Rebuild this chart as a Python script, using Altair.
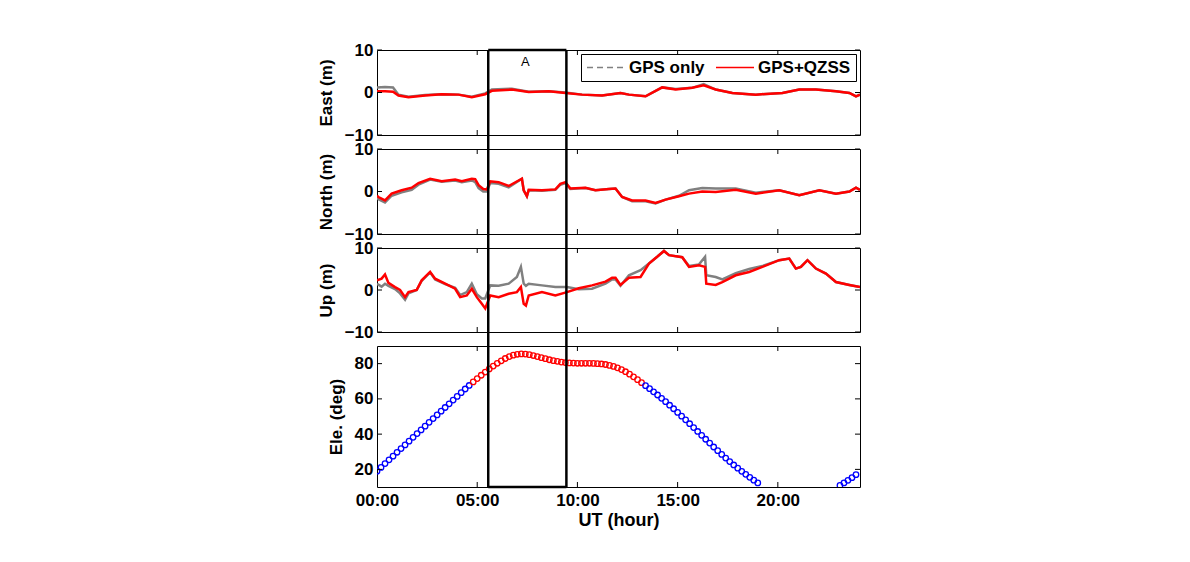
import altair as alt
import pandas as pd

# ---------------- data ----------------
X_DOMAIN = [0, 24.1]
X_TICKS = [5, 10, 15, 20]
X_LABEL_TICKS = [0, 5, 10, 15, 20]
BOX_HOURS = [5.55, 9.45]
BOX_LABEL = "A"
BOX_LABEL_HOUR = 7.4
SERIES = ["GPS only", "GPS+QZSS"]

east_t = [0.0, 0.4, 0.8, 1.07, 1.57, 2.4, 3.23, 4.07, 4.73, 5.4, 5.73, 6.73, 7.57, 8.57,
          9.4, 10.23, 11.23, 12.15, 12.57, 13.4, 14.23, 14.9, 15.73, 16.3, 16.9, 17.73,
          18.9, 20.23, 21.07, 21.9, 22.9, 23.57, 23.9, 24.1]
east_qzss = [0.3, 0.3, 0.2, -0.7, -1.1, -0.7, -0.4, -0.5, -1.1, -0.4, 0.4, 0.7, 0.1, 0.3,
             -0.1, -0.5, -0.7, -0.1, -0.5, -0.9, 1.2, 0.7, 1.1, 1.7, 0.7, -0.1,
             -0.5, -0.1, 0.7, 0.7, 0.3, -0.1, -0.9, -0.5]
east_gps = [1.2, 1.3, 1.2, -0.5, -1.0, -0.6, -0.4, -0.5, -1.0, -0.2, 0.7, 0.9, 0.2, 0.3,
            0.0, -0.5, -0.7, -0.1, -0.5, -0.9, 1.2, 0.8, 1.1, 2.0, 0.7, -0.1,
            -0.5, -0.1, 0.7, 0.7, 0.3, -0.1, -0.9, -0.5]

north_t = [0.0, 0.07, 0.4, 0.73, 1.23, 1.73, 2.07, 2.65, 3.23, 3.9, 4.23, 4.73, 4.9, 5.07,
           5.3, 5.48, 5.65, 6.07, 6.57, 7.23, 7.32, 7.48, 7.57, 8.23, 8.9, 9.15, 9.4, 9.65,
           10.4, 10.9, 11.57, 11.9, 12.23, 12.73, 13.4, 13.9, 14.4, 15.07, 15.57, 16.23,
           16.9, 17.9, 18.9, 20.07, 21.07, 22.07, 22.9, 23.57, 23.9, 24.1]
north_qzss = [-1.0, -1.3, -2.1, -0.5, 0.3, 0.9, 2.0, 3.0, 2.4, 2.8, 2.4, 3.0, 2.9, 1.5,
              0.6, 0.5, 2.4, 2.2, 1.3, 3.0, 0.3, -1.1, 0.4, 0.3, 0.5, 1.8, 2.2, 0.7,
              0.9, 0.3, 0.6, 0.7, -1.3, -2.1, -2.1, -2.7, -1.9, -1.1, -0.5, 0.0,
              -0.1, 0.4, -0.5, 0.3, -0.9, 0.3, -0.5, 0.0, 0.9, 0.4]
north_gps = [-1.4, -1.8, -2.6, -1.0, -0.2, 0.4, 1.6, 2.8, 2.3, 2.6, 2.2, 2.6, 2.2, 0.8,
             0.0, 0.0, 2.0, 1.8, 1.0, 3.0, 0.3, -1.1, 0.3, 0.2, 0.4, 1.6, 2.0, 0.6,
             0.8, 0.3, 0.6, 0.7, -1.3, -2.3, -2.3, -2.8, -1.9, -1.0, 0.3, 0.8,
             0.7, 0.7, -0.3, 0.3, -0.9, 0.3, -0.5, 0.0, 0.9, 0.4]

up_t = [0.0, 0.23, 0.4, 0.57, 0.9, 1.15, 1.4, 1.57, 1.98, 2.23, 2.65, 2.9, 3.4, 3.9, 4.15,
        4.48, 4.73, 4.98, 5.23, 5.4, 5.65, 6.07, 6.57, 6.98, 7.18, 7.32, 7.43, 7.57, 8.23,
        8.9, 9.48, 10.07, 10.73, 11.4, 11.73, 11.9, 12.15, 12.57, 13.15, 13.57, 13.98,
        14.32, 14.57, 15.23, 15.57, 16.07, 16.37, 16.43, 16.9, 17.23, 17.9, 18.57, 19.23,
        20.07, 20.57, 20.9, 21.15, 21.48, 21.9, 22.4, 22.9, 23.57, 24.1]
up_qzss = [2.3, 2.7, 3.7, 1.7, 0.7, 0.0, -1.7, -0.5, 0.0, 2.3, 4.3, 2.7, 1.5, 0.3, -1.7,
           -1.3, 0.3, -1.7, -3.3, -4.4, -1.3, -1.7, -0.9, -0.5, 0.7, -3.3, -3.7, -1.3, -0.5,
           -1.3, -0.5, 0.4, 1.1, 2.0, 2.9, 2.9, 1.2, 2.9, 3.1, 6.3, 7.9,
           9.3, 8.3, 7.8, 5.5, 5.9, 5.5, 1.5, 1.2, 1.9, 3.5, 4.3, 5.5,
           7.1, 7.5, 5.1, 5.5, 7.1, 5.1, 3.9, 1.9, 1.2, 0.7]
up_gps = [1.5, 0.8, 1.5, 1.0, 0.2, -0.8, -2.3, -0.8, 0.0, 2.2, 4.2, 2.5, 1.4, 0.5, -1.2,
          -0.5, 1.5, -1.0, -2.0, -2.0, 1.1, 1.0, 1.5, 3.1, 5.5, 1.5, 1.0, 1.5, 1.1,
          0.7, 0.7, 0.2, 0.3, 1.5, 2.5, 2.5, 1.0, 3.5, 4.7, 6.3, 7.9,
          9.3, 8.3, 7.8, 5.7, 6.1, 7.9, 3.5, 3.1, 2.5, 4.0, 5.0, 5.7,
          7.1, 7.5, 5.1, 5.5, 7.1, 5.1, 3.9, 1.9, 1.2, 0.7]

ele_hours = [round(0.2 * i, 1) for i in range(96)] + [23.1, 23.3, 23.5, 23.7, 23.9]
ele_deg = [19.0, 21.1, 23.3, 25.4, 27.5, 29.7, 31.8, 33.9, 36.0, 38.2, 40.3, 42.4, 44.5,
           46.7, 48.8, 50.9, 53.0, 55.1, 57.2, 59.3, 61.4, 63.5, 65.6, 67.6, 69.6, 71.5,
           73.4, 75.2, 77.0, 78.6, 80.2, 81.6, 82.9, 84.0, 84.8, 85.3, 85.5, 85.4, 85.1,
           84.6, 84.0, 83.4, 82.8, 82.2, 81.7, 81.3, 80.9, 80.6, 80.4, 80.3, 80.2, 80.2,
           80.2, 80.2, 80.1, 80.0, 79.8, 79.5, 79.0, 78.4, 77.6, 76.6, 75.4, 74.0, 72.5,
           70.9, 69.2, 67.5, 65.8, 64.0, 62.2, 60.3, 58.4, 56.4, 54.4, 52.3, 50.2, 48.1,
           45.9, 43.7, 41.5, 39.3, 37.1, 34.9, 32.7, 30.6, 28.5, 26.4, 24.4, 22.5, 20.7,
           18.9, 17.2, 15.5, 13.9, 12.3,
           10.9, 12.3, 13.8, 15.3, 17.0]
QZSS_USED = [4.7, 13.3]  # hours where the QZSS satellite is used (red markers)

ENU_DOMAIN = [-10, 10]
ENU_TICKS = [-10, 0, 10]
ELE_DOMAIN = [10, 90]
ELE_TICKS = [20, 40, 60, 80]

# ---------------- layout / style ----------------
W = 483
H_ENU = [85, 85, 84]
H_ELE = 141
SP = 14
TICK = 5
FONT = "Liberation Sans"
GRAY = "#808080"
RED = "#ff0000"
BLUE = "#0000ff"

color_scale = alt.Scale(domain=SERIES, range=[GRAY, RED])
dash_scale = alt.Scale(domain=SERIES, range=[[6, 4], [1, 0]])


def x_enc(show_axis):
    scale = alt.Scale(domain=X_DOMAIN, nice=False, zero=False)
    if show_axis:
        axis = alt.Axis(values=X_LABEL_TICKS,
                        labelExpr="(datum.value < 10 ? '0' : '') + datum.value + ':00'",
                        title="UT (hour)", labelPadding=5, titlePadding=3,
                        labelFlush=False, titleFontSize=18)
        return alt.X("hour:Q", scale=scale, axis=axis)
    return alt.X("hour:Q", scale=scale, axis=None)


def y_enc(domain, ticks, title):
    return alt.Y("value:Q", scale=alt.Scale(domain=domain, nice=False, zero=False),
                 axis=alt.Axis(values=ticks, title=title, labelPadding=4, titlePadding=9,
                               labelFlush=False, labelOverlap=False))


def decorations(h, domain, ticks, title, show_x, top_ext, bot_ext):
    xe = x_enc(show_x)
    ye = y_enc(domain, ticks, title)
    xt = pd.DataFrame({"hour": X_TICKS})
    yt = pd.DataFrame({"value": ticks})
    bottom_ticks = alt.Chart(xt).mark_rule(color="black", strokeWidth=1).encode(
        x=xe, y=alt.value(h), y2=alt.value(h - TICK))
    top_ticks = alt.Chart(xt).mark_rule(color="black", strokeWidth=1).encode(
        x=xe, y=alt.value(0), y2=alt.value(TICK))
    left_ticks = alt.Chart(yt).mark_rule(color="black", strokeWidth=1).encode(
        y=ye, x=alt.value(0), x2=alt.value(TICK))
    right_ticks = alt.Chart(yt).mark_rule(color="black", strokeWidth=1).encode(
        y=ye, x=alt.value(W), x2=alt.value(W - TICK))
    box = alt.Chart(pd.DataFrame({"hour": BOX_HOURS})).mark_rule(
        color="black", strokeWidth=2.5, clip=False).encode(
        x=xe, y=alt.value(-top_ext), y2=alt.value(h + bot_ext))
    return [bottom_ticks, top_ticks, left_ticks, right_ticks, box]


def enu_panel(t, gps, qzss, title, h, first=False):
    xe = x_enc(False)
    ye = y_enc(ENU_DOMAIN, ENU_TICKS, title)
    if first:
        legend = alt.Legend(title=None, orient="top-right", offset=4, direction="horizontal",
                            strokeColor="black", fillColor="white", padding=5,
                            symbolType="stroke", symbolSize=1444, symbolStrokeWidth=1.3,
                            clipHeight=17,
                            labelFont=FONT, labelFontSize=17, labelFontWeight="bold",
                            labelColor="black", columnPadding=10, labelOffset=3,
                            cornerRadius=0)
    else:
        legend = None
    col = alt.Color("series:N", scale=color_scale, legend=legend)
    gdf = pd.DataFrame({"hour": t, "value": gps, "series": SERIES[0]})
    rdf = pd.DataFrame({"hour": t, "value": qzss, "series": SERIES[1]})
    gray = alt.Chart(gdf).mark_line(strokeWidth=2.5, clip=True).encode(x=xe, y=ye, color=col)
    red = alt.Chart(rdf).mark_line(strokeWidth=2.5, clip=True).encode(x=xe, y=ye, color=col)
    layers = [gray, red]
    if first:
        ldf = pd.DataFrame({"hour": [0.0, 0.0], "value": [0.0, 0.0], "series": SERIES})
        dash = alt.Chart(ldf).transform_filter("false").mark_line().encode(
            x=xe, y=ye, color=col,
            strokeDash=alt.StrokeDash("series:N", scale=dash_scale, legend=legend))
        layers.append(dash)
        top_edge = alt.Chart(pd.DataFrame({"hour": [BOX_HOURS[0]], "hour2": [BOX_HOURS[1]]})
                             ).mark_rule(color="black", strokeWidth=2.5, clip=False).encode(
            x=xe, x2="hour2:Q", y=alt.value(0))
        label = alt.Chart(pd.DataFrame({"hour": [BOX_LABEL_HOUR], "txt": [BOX_LABEL]})).mark_text(
            font=FONT, fontSize=13, color="black").encode(x=xe, y=alt.value(12), text="txt:N")
        layers += [top_edge, label]
    layers += decorations(h, ENU_DOMAIN, ENU_TICKS, title, False,
                          0 if first else SP / 2, SP / 2)
    return alt.layer(*layers).properties(width=W, height=h)


p1 = enu_panel(east_t, east_gps, east_qzss, "East (m)", H_ENU[0], first=True)
p2 = enu_panel(north_t, north_gps, north_qzss, "North (m)", H_ENU[1])
p3 = enu_panel(up_t, up_gps, up_qzss, "Up (m)", H_ENU[2])

# elevation panel
xe4 = x_enc(True)
ye4 = y_enc(ELE_DOMAIN, ELE_TICKS, "Ele. (deg)")
edf = pd.DataFrame({"hour": ele_hours, "value": ele_deg})
used = f"datum.hour >= {QZSS_USED[0]} && datum.hour <= {QZSS_USED[1]}"
points = alt.Chart(edf).mark_point(shape="circle", filled=False, size=30, strokeWidth=1.3,
                                   clip=True, opacity=1).encode(
    x=xe4, y=ye4,
    stroke=alt.condition(used, alt.value(RED), alt.value(BLUE)))
bottom_edge = alt.Chart(pd.DataFrame({"hour": [BOX_HOURS[0]], "hour2": [BOX_HOURS[1]]})
                        ).mark_rule(color="black", strokeWidth=2.5, clip=False).encode(
    x=xe4, x2="hour2:Q", y=alt.value(H_ELE))
p4 = alt.layer(points, bottom_edge,
               *decorations(H_ELE, ELE_DOMAIN, ELE_TICKS, "Ele. (deg)", True, SP / 2, 0)
               ).properties(width=W, height=H_ELE)

chart = alt.vconcat(p1, p2, p3, p4, spacing=SP, bounds="flush").resolve_scale(
    color="independent", strokeDash="independent").resolve_legend(
    color="independent", strokeDash="independent").properties(
    padding={"left": 308, "top": 32, "right": 5, "bottom": 5},
    background="white"
).configure_view(stroke="black", strokeWidth=1).configure_axis(
    grid=False, domain=False, ticks=False,
    labelFont=FONT, labelFontSize=17, labelFontWeight="bold", labelColor="black",
    titleFont=FONT, titleFontSize=17, titleFontWeight="bold", titleColor="black"
)

chart.save("out.html", embed_options={"renderer": "svg", "actions": False})
